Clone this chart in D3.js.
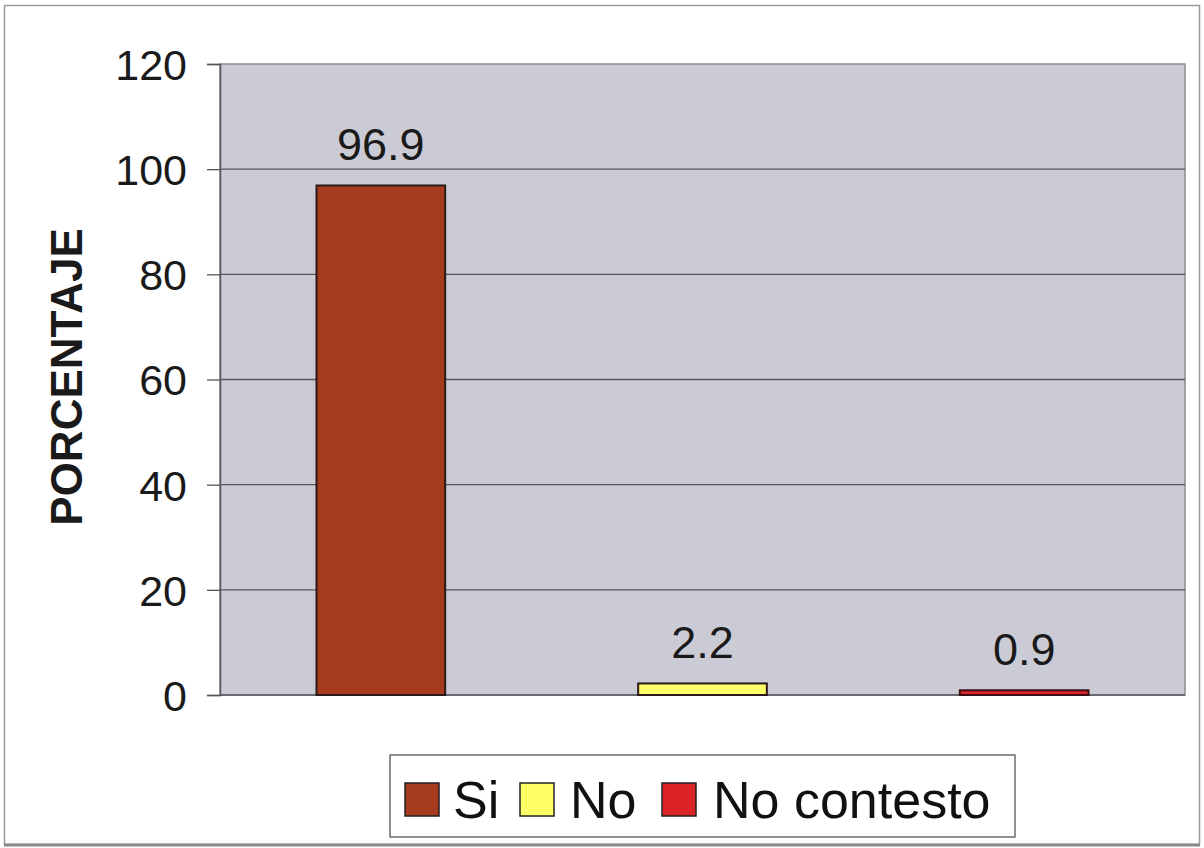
<!DOCTYPE html>
<html>
<head>
<meta charset="utf-8">
<script src="https://cdn.jsdelivr.net/npm/d3@7"></script>
<style>
  html, body { margin: 0; padding: 0; background: #ffffff; }
  svg { display: block; font-family: "Liberation Sans", Arial, sans-serif; }
</style>
</head>
<body>
<svg id="chart" width="1204" height="848"></svg>
<script>
// Response categories and their percentages
const categories = ["Si", "No", "No contesto"];
const values = [96.9, 2.2, 0.9];
const colors = ["#a63b1e", "#ffff66", "#dc2428"];
const yTicks = [0, 20, 40, 60, 80, 100, 120];
const yLabel = "PORCENTAJE";

const svg = d3.select("#chart");
const W = 1204, H = 848;

// outer frame
svg.append("rect").attr("x", 4.5).attr("y", 5.5).attr("width", W - 9).attr("height", H - 9)
  .attr("fill", "#ffffff").attr("stroke", "#9a9a9a").attr("stroke-width", 1.5);
svg.append("line").attr("x1", 4).attr("x2", W - 4).attr("y1", H - 3).attr("y2", H - 3)
  .attr("stroke", "#8a8a8a").attr("stroke-width", 3);

const plot = { left: 220, right: 1185, top: 64, bottom: 695 };

const x = d3.scaleBand().domain(categories)
  .range([plot.left, plot.right]).paddingInner(0.6).paddingOuter(0.3);
const y = d3.scaleLinear().domain([0, 120]).range([plot.bottom, plot.top]);

// plot background
svg.append("rect").attr("x", plot.left).attr("y", plot.top)
  .attr("width", plot.right - plot.left).attr("height", plot.bottom - plot.top)
  .attr("fill", "#cacbd5").attr("stroke", "#8c8c94").attr("stroke-width", 1.5);

// gridlines
svg.append("g").selectAll("line").data(yTicks.filter(d => d > 0 && d < 120)).join("line")
  .attr("x1", plot.left).attr("x2", plot.right)
  .attr("y1", d => y(d)).attr("y2", d => y(d))
  .attr("stroke", "#55565c").attr("stroke-width", 1.3);

// y axis
const yAxis = d3.axisLeft(y).tickValues(yTicks).tickSize(13).tickPadding(20)
  .tickFormat(d3.format("d"));
const ga = svg.append("g").attr("transform", `translate(${plot.left},0)`).call(yAxis);
ga.select(".domain").attr("stroke", "#55565c").attr("stroke-width", 1.5);
ga.selectAll(".tick line").attr("stroke", "#55565c").attr("stroke-width", 1.3);
ga.selectAll(".tick text").attr("font-size", 43).attr("fill", "#1a1a1a")
  .attr("font-family", "'Liberation Sans', Arial, sans-serif").attr("dy", "0.36em");

// x baseline
svg.append("line").attr("x1", plot.left).attr("x2", plot.right)
  .attr("y1", y(0)).attr("y2", y(0)).attr("stroke", "#55565c").attr("stroke-width", 1.5);

// y axis title
svg.append("text").attr("transform", `translate(82,377) rotate(-90)`)
  .attr("text-anchor", "middle").attr("font-size", 44).attr("font-weight", "bold")
  .attr("fill", "#1a1a1a").text(yLabel);

// bars
svg.append("g").selectAll("rect").data(categories).join("rect")
  .attr("x", d => x(d)).attr("width", x.bandwidth())
  .attr("y", (d, i) => y(values[i]))
  .attr("height", (d, i) => y(0) - y(values[i]))
  .attr("fill", (d, i) => colors[i])
  .attr("stroke", (d, i) => i === 2 ? "#3a1016" : "#2a1a1a").attr("stroke-width", 2);

// value labels
svg.append("g").selectAll("text").data(categories).join("text")
  .attr("x", d => x(d) + x.bandwidth() / 2)
  .attr("y", (d, i) => y(values[i]) - 25)
  .attr("text-anchor", "middle").attr("font-size", 45).attr("fill", "#1a1a1a")
  .text((d, i) => values[i].toFixed(1));

// legend
const lg = svg.append("g");
lg.append("rect").attr("x", 390).attr("y", 755).attr("width", 625).attr("height", 82)
  .attr("fill", "#ffffff").attr("stroke", "#555555").attr("stroke-width", 1.3);
const legendItems = [
  { sx: 405, tx: 453 },
  { sx: 520, tx: 570 },
  { sx: 662, tx: 713 }
];
categories.forEach((c, i) => {
  lg.append("rect").attr("x", legendItems[i].sx).attr("y", 783)
    .attr("width", 34).attr("height", 33)
    .attr("fill", colors[i]).attr("stroke", "#222").attr("stroke-width", 1.5);
  lg.append("text").attr("x", legendItems[i].tx).attr("y", 818)
    .attr("font-size", 52).attr("fill", "#111").text(c);
});
</script>
</body>
</html>
